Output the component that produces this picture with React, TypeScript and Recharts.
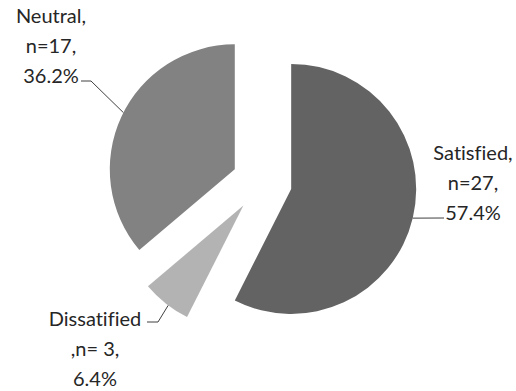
import React from 'react';
import { PieChart, Pie, Cell, Sector } from 'recharts';

// Slices in clockwise order, starting at 12 o'clock
const categories = ['Satisfied', 'Dissatisfied', 'Neutral'];
const counts = [27, 3, 17];
const nameLines = ['Satisfied,', 'Dissatified', 'Neutral,'];
const countLines = ['n=27,', ',n= 3,', 'n=17,'];
const percentLines = ['57.4%', '6.4%', '36.2%'];
const colors = ['#636363', '#b3b3b3', '#828282'];

const data = categories.map((name, i) => ({ name, value: counts[i] }));

// Label block placement: text centre x, first line centre y, leader elbow points,
// and the angle on the slice edge where the leader line attaches
const labelLayout = [
  { x: 473, y: 152, elbow: [[444, 218]], angle: -13.5 },
  { x: 95, y: 318, elbow: [[147, 322], [158, 322]], angle: -127 },
  { x: 51, y: 15, elbow: [[81, 81], [91, 81]], angle: 153 },
];

const W = 516;
const H = 391;
const EXPLODE = 30;
const RADIUS = 125;
const LINE_GAP = 30;
const RAD = Math.PI / 180;
const FONT = 'Lato, "Open Sans", sans-serif';

const shift = (midAngle: number) => ({
  dx: EXPLODE * Math.cos(-midAngle * RAD),
  dy: EXPLODE * Math.sin(-midAngle * RAD),
});

function ExplodedSector(props: any) {
  const { cx, cy, midAngle, fill } = props;
  const { dx, dy } = shift(midAngle);
  return (
    <Sector
      cx={cx + dx}
      cy={cy + dy}
      innerRadius={0}
      outerRadius={props.outerRadius}
      startAngle={props.startAngle}
      endAngle={props.endAngle}
      fill={fill}
      stroke="none"
    />
  );
}

function SliceLabel(props: any) {
  const { cx, cy, midAngle, outerRadius, index } = props;
  const { dx, dy } = shift(midAngle);
  const layout = labelLayout[index];
  const ax = cx + dx + outerRadius * Math.cos(-layout.angle * RAD);
  const ay = cy + dy + outerRadius * Math.sin(-layout.angle * RAD);
  const pts = [...layout.elbow, [ax, ay]].map((p) => p.join(',')).join(' ');
  const lines = [nameLines[index], countLines[index], percentLines[index]];
  return (
    <g>
      <polyline points={pts} fill="none" stroke="#404040" strokeWidth={1} />
      {lines.map((t, k) => (
        <text
          key={k}
          x={layout.x}
          y={layout.y + k * LINE_GAP}
          textAnchor="middle"
          dominantBaseline="central"
          fontFamily={FONT}
          fontSize={20}
          fill="#262626"
          style={{ fontVariantLigatures: 'none' }}
        >
          {t}
        </text>
      ))}
    </g>
  );
}

export default function App() {
  return (
    <div style={{ position: 'absolute', left: 0, top: 0, width: W, height: H, background: '#fff' }}>
      <PieChart width={W} height={H} margin={{ top: 0, right: 0, bottom: 0, left: 0 }}>
        <Pie
          data={data}
          dataKey="value"
          nameKey="name"
          cx={262}
          cy={182}
          outerRadius={RADIUS}
          startAngle={90}
          endAngle={-270}
          stroke="none"
          isAnimationActive={false}
          shape={ExplodedSector}
          label={SliceLabel}
          labelLine={false}
        >
          {data.map((d, i) => (
            <Cell key={d.name} fill={colors[i]} />
          ))}
        </Pie>
      </PieChart>
    </div>
  );
}
